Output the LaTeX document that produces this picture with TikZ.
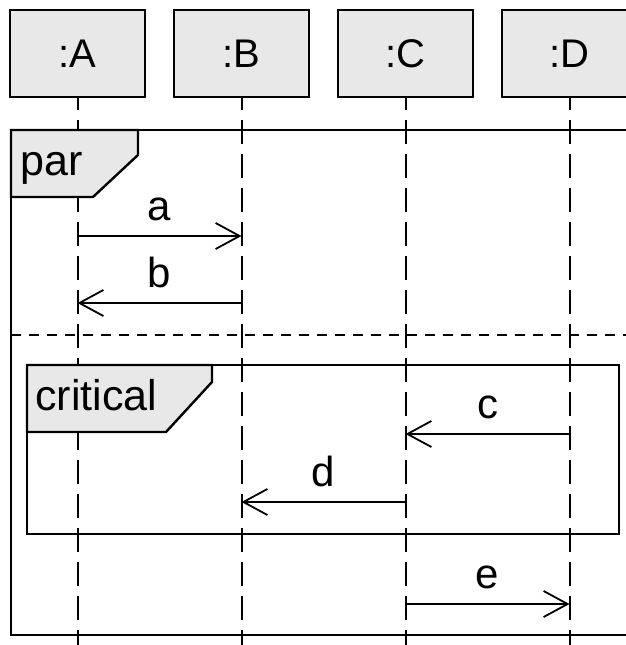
\documentclass[tikz,border=0pt]{standalone}
\usepackage{fontspec}
\setmainfont{Liberation Sans}
\usetikzlibrary{arrows.meta, positioning}
\definecolor{boxgray}{RGB}{232,232,232}

\begin{document}
\begin{tikzpicture}[x=1pt, y=-1pt,
  lifebox/.style={draw, line width=2pt, fill=boxgray, minimum width=135pt,
    minimum height=87pt, inner sep=0pt, font=\fontsize{40}{40}\selectfont},
  lifeline/.style={line width=2pt, dash pattern=on 24pt off 10pt, dash phase=12pt},
  frameline/.style={line width=2.4pt},
  tagshape/.style={frameline, fill=boxgray},
  tagtext/.style={anchor=base west, inner sep=0pt, font=\fontsize{43}{43}\selectfont},
  msg/.style={line width=1.8pt, -{Straight Barb[length=24pt, width=26pt]}},
  lbl/.style={font=\fontsize{42}{42}\selectfont, inner sep=0pt, above=14pt}]

\useasboundingbox (0,0) rectangle (626,645);
\clip (0,0) rectangle (626,645);

% Lifeline heads
\node[lifebox] (A) at (77.5,53.5) {:A};
\node[lifebox] (B) at (241.5,53.5) {:B};
\node[lifebox] (C) at (405.5,53.5) {:C};
\node[lifebox] (D) at (569.5,53.5) {:D};

% Lifelines
\coordinate (bottom) at (0,645);
\foreach \p in {A,B,C,D} {
    \draw[lifeline] (\p.south) -- (\p.south |- bottom);
}

% par fragment
\draw[frameline] (640,130) -- (11,130) -- (11,635) -- (640,635);
\draw[line width=2pt, dash pattern=on 10pt off 8pt] (11,335) -- (640,335);
\filldraw[tagshape] (11,130) -- (138,130) -- (138,155) -- (93,197) -- (11,197) -- cycle;
\node[tagtext] (par) at (20,175) {par};

% critical fragment
\draw[frameline] (27,365) rectangle (619,534);
\filldraw[tagshape] (27,365) -- (212,365) -- (212,382) -- (166,432) -- (27,432) -- cycle;
\node[tagtext] (crit) at (35,410) {critical};

% Messages
\coordinate (ya) at (0,236);
\coordinate (yb) at (0,303);
\coordinate (yc) at (0,434);
\coordinate (yd) at (0,502);
\coordinate (ye) at (0,604);

\draw[msg] (A |- ya) -- node[lbl] {a} (B |- ya);
\draw[msg] (B |- yb) -- node[lbl] {b} (A |- yb);
\draw[msg] (D |- yc) -- node[lbl] {c} (C |- yc);
\draw[msg] (C |- yd) -- node[lbl] {d} (B |- yd);
\draw[msg] (C |- ye) -- node[lbl] {e} (D |- ye);

\end{tikzpicture}
\end{document}
